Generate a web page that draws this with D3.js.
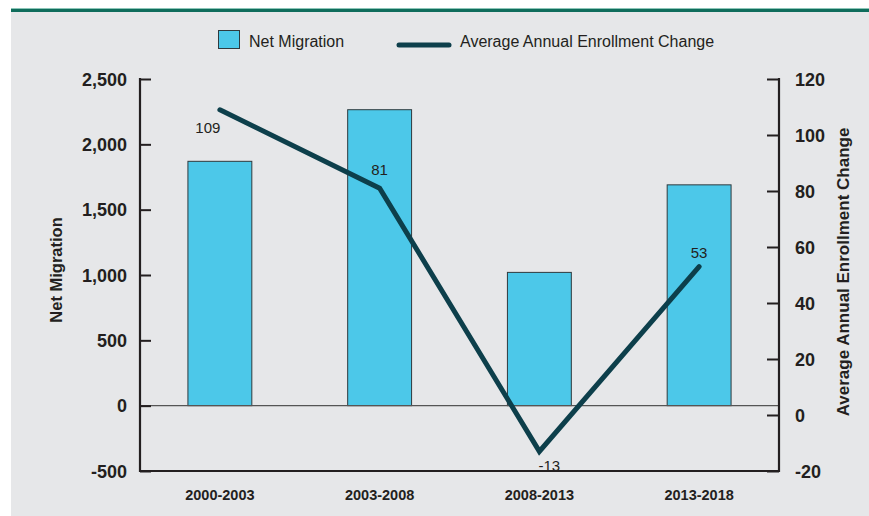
<!DOCTYPE html>
<html>
<head>
<meta charset="utf-8">
<script src="https://cdn.jsdelivr.net/npm/d3@7"></script>
<style>
  html, body { margin: 0; padding: 0; background: #ffffff; }
  svg { display: block; font-family: "Liberation Sans", Arial, sans-serif; }
</style>
</head>
<body>
<svg id="chart" width="869" height="516"></svg>
<script>
// Periods on the x axis
const periods = ["2000-2003", "2003-2008", "2008-2013", "2013-2018"];
// Net migration (bars, left axis)
const netMigration = [1870, 2265, 1020, 1690];
// Average annual enrollment change (line, right axis)
const enrollmentChange = [109, 81, -13, 53];
// Axis ticks
const leftTicks = [-500, 0, 500, 1000, 1500, 2000, 2500];
const rightTicks = [-20, 0, 20, 40, 60, 80, 100, 120];

const svg = d3.select("#chart");
const W = 869, H = 516;
const plot = { left: 140, right: 779, top: 79, bottom: 471 };

// Plain hyphen for negatives, as printed on the axes
const fmtComma = d3.formatLocale({ decimal: ".", thousands: ",", grouping: [3], currency: ["$", ""], minus: "-" }).format(",");

// Panel background and top rule
svg.append("rect").attr("x", 11).attr("y", 12).attr("width", W - 11).attr("height", H - 12).attr("fill", "#e6e7e9");
svg.append("rect").attr("x", 11).attr("y", 8).attr("width", W - 11).attr("height", 1.2).attr("fill", "#8cc6b8");
svg.append("rect").attr("x", 11).attr("y", 9).attr("width", W - 11).attr("height", 3).attr("fill", "#0f6d5c");

const x = d3.scaleBand().domain(periods).range([plot.left, plot.right]).paddingInner(0.6).paddingOuter(0.3);
const yL = d3.scaleLinear().domain([-500, 2500]).range([plot.bottom, plot.top]);
const yR = d3.scaleLinear().domain([-20, 120]).range([plot.bottom, plot.top]);

// Bars
svg.append("g").selectAll("rect").data(periods).join("rect")
  .attr("x", d => x(d))
  .attr("y", (d, i) => yL(netMigration[i]))
  .attr("width", x.bandwidth())
  .attr("height", (d, i) => yL(0) - yL(netMigration[i]))
  .attr("fill", "#4cc8e9")
  .attr("stroke", "#2f3a3e")
  .attr("stroke-width", 1);

// Zero line
svg.append("line")
  .attr("x1", plot.left).attr("x2", plot.right)
  .attr("y1", yL(0)).attr("y2", yL(0))
  .attr("stroke", "#555").attr("stroke-width", 1.2);

// Left axis (ticks point inward)
const leftAxis = d3.axisRight(yL).tickValues(leftTicks).tickSize(11).tickFormat(fmtComma);
const gL = svg.append("g").attr("transform", `translate(${plot.left},0)`).call(leftAxis);
gL.select(".domain").remove();
gL.selectAll(".tick line").attr("stroke", "#231f20").attr("stroke-width", 2);
gL.selectAll(".tick text")
  .attr("x", -13).attr("dy", "0.35em").attr("text-anchor", "end")
  .attr("font-size", 18).attr("font-weight", "bold").attr("fill", "#231f20");

// Right axis (ticks point inward)
const rightAxis = d3.axisLeft(yR).tickValues(rightTicks).tickSize(12).tickFormat(fmtComma);
const gR = svg.append("g").attr("transform", `translate(${plot.right},0)`).call(rightAxis);
gR.select(".domain").remove();
gR.selectAll(".tick line").attr("stroke", "#231f20").attr("stroke-width", 2);
gR.selectAll(".tick text")
  .attr("x", 16).attr("dy", "0.35em").attr("text-anchor", "start")
  .attr("font-size", 18).attr("font-weight", "bold").attr("fill", "#231f20");

// Frame: left, bottom, right lines
svg.append("path")
  .attr("d", `M${plot.left},${plot.top - 1}V${plot.bottom}H${plot.right}V${plot.top - 1}`)
  .attr("fill", "none").attr("stroke", "#231f20").attr("stroke-width", 2.2);

// Category labels
svg.append("g").selectAll("text").data(periods).join("text")
  .attr("x", d => x(d) + x.bandwidth() / 2)
  .attr("y", 500)
  .attr("text-anchor", "middle")
  .attr("font-size", 14.5).attr("font-weight", "bold").attr("fill", "#231f20")
  .text(d => d);

// Enrollment change line
const line = d3.line()
  .x((d, i) => x(periods[i]) + x.bandwidth() / 2)
  .y(d => yR(d));
svg.append("path")
  .datum(enrollmentChange)
  .attr("d", line)
  .attr("fill", "none")
  .attr("stroke", "#0d3f4b")
  .attr("stroke-width", 5)
  .attr("stroke-linecap", "round")
  .attr("stroke-linejoin", "miter");

// Value labels for the line
const labelOffsets = [[-12, 23], [0, -13], [10, 20], [0, -9]];
svg.append("g").selectAll("text").data(enrollmentChange).join("text")
  .attr("x", (d, i) => x(periods[i]) + x.bandwidth() / 2 + labelOffsets[i][0])
  .attr("y", (d, i) => yR(d) + labelOffsets[i][1])
  .attr("text-anchor", "middle")
  .attr("font-size", 15).attr("fill", "#231f20")
  .text(d => fmtComma(d));

// Axis titles
svg.append("text")
  .attr("transform", "translate(62,270) rotate(-90)")
  .attr("text-anchor", "middle")
  .attr("font-size", 16.5).attr("font-weight", "bold").attr("fill", "#231f20")
  .text("Net Migration");
svg.append("text")
  .attr("transform", "translate(849,272) rotate(-90)")
  .attr("text-anchor", "middle")
  .attr("font-size", 17).attr("font-weight", "bold").attr("fill", "#231f20")
  .text("Average Annual Enrollment Change");

// Legend
const lg = svg.append("g");
lg.append("rect").attr("x", 218.5).attr("y", 30.5).attr("width", 21).attr("height", 18)
  .attr("fill", "#4cc8e9").attr("stroke", "#2f3a3e").attr("stroke-width", 1);
lg.append("text").attr("x", 249).attr("y", 47).attr("font-size", 16).attr("fill", "#231f20").text("Net Migration");
lg.append("line").attr("x1", 399).attr("x2", 449).attr("y1", 45).attr("y2", 45)
  .attr("stroke", "#0d3f4b").attr("stroke-width", 5).attr("stroke-linecap", "round");
lg.append("text").attr("x", 460).attr("y", 47).attr("font-size", 16).attr("fill", "#231f20").text("Average Annual Enrollment Change");
</script>
</body>
</html>
